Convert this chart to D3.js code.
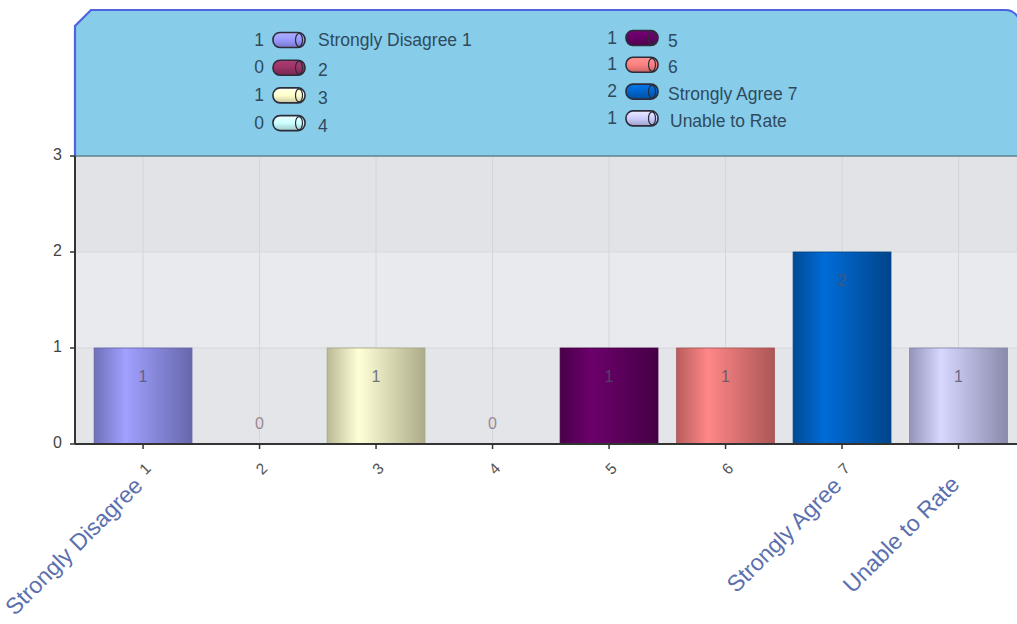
<!DOCTYPE html>
<html>
<head>
<meta charset="utf-8">
<script src="https://cdn.jsdelivr.net/npm/d3@7"></script>
<style>
  html, body { margin: 0; padding: 0; background: #ffffff; }
  svg { display: block; font-family: "Liberation Sans", Arial, sans-serif; }
</style>
</head>
<body>
<svg id="chart" width="1017" height="624"></svg>
<script>
// Response categories, counts and bar colours
const categories = ["Strongly Disagree 1", "2", "3", "4", "5", "6", "Strongly Agree 7", "Unable to Rate"];
const counts = [1, 0, 1, 0, 1, 1, 2, 1];
const barColors = ["#9999ff", "#993366", "#ffffcc", "#ccffff", "#660066", "#ff8080", "#0066cc", "#ccccff"];
const yTicks = [0, 1, 2, 3];

const svg = d3.select("#chart");
const plot = { left: 75, right: 1017, top: 156, bottom: 444 };

const x = d3.scaleBand()
  .domain(d3.range(categories.length))
  .range([84.8, 84.8 + 116.5 * categories.length])
  .paddingInner(0.16)
  .paddingOuter(0.08);
const y = d3.scaleLinear().domain([0, 3]).range([plot.bottom, plot.top]);

const defs = svg.append("defs");
barColors.forEach((c, i) => {
  const base = d3.color(c);
  const g = defs.append("linearGradient").attr("id", "bar" + i)
    .attr("x1", "0%").attr("x2", "100%").attr("y1", "0%").attr("y2", "0%");
  g.append("stop").attr("offset", "0%").attr("stop-color", base.darker(0.9));
  g.append("stop").attr("offset", "32%").attr("stop-color", base.brighter(0.15));
  g.append("stop").attr("offset", "100%").attr("stop-color", base.darker(1.1));
  const s = defs.append("linearGradient").attr("id", "sw" + i)
    .attr("x1", "0%").attr("x2", "0%").attr("y1", "0%").attr("y2", "100%");
  s.append("stop").attr("offset", "0%").attr("stop-color", base.brighter(0.4));
  s.append("stop").attr("offset", "50%").attr("stop-color", base);
  s.append("stop").attr("offset", "100%").attr("stop-color", base.darker(0.7));
});

// Plot background bands
const bandFill = ["#e4e5e8", "#e8eaed", "#e2e3e6"];
svg.append("g").selectAll("rect").data(d3.range(3)).join("rect")
  .attr("x", plot.left).attr("width", plot.right - plot.left)
  .attr("y", d => y(d + 1)).attr("height", d => y(d) - y(d + 1))
  .attr("fill", d => bandFill[d]);

// Grid lines
svg.append("g").selectAll("line").data(yTicks.slice(1, 3)).join("line")
  .attr("x1", plot.left).attr("x2", plot.right)
  .attr("y1", d => y(d)).attr("y2", d => y(d))
  .attr("stroke", "#d6d8db").attr("stroke-width", 1);
svg.append("g").selectAll("line").data(d3.range(categories.length)).join("line")
  .attr("x1", d => x(d) + x.bandwidth() / 2).attr("x2", d => x(d) + x.bandwidth() / 2)
  .attr("y1", plot.top).attr("y2", plot.bottom)
  .attr("stroke", "#d3d5d9").attr("stroke-width", 1);

// Legend panel
function panelPath(closed) {
  const p = d3.path();
  p.moveTo(plot.left, plot.top);
  p.lineTo(plot.left, 26);
  p.lineTo(91, 10);
  p.lineTo(1006, 10);
  p.quadraticCurveTo(1013, 10, 1018, 17);
  if (closed) { p.lineTo(1018, plot.top); p.closePath(); }
  return p.toString();
}
svg.append("path").attr("d", panelPath(true)).attr("fill", "#87cdea");
svg.append("path").attr("d", panelPath(false)).attr("fill", "none")
  .attr("stroke", "#4f62e0").attr("stroke-width", 2.2);
svg.append("line").attr("x1", plot.left).attr("x2", plot.right)
  .attr("y1", plot.top).attr("y2", plot.top)
  .attr("stroke", "#5f7f8f").attr("stroke-width", 1.5);

// Legend entries
const legend = svg.append("g");
categories.forEach((c, i) => {
  const col = i < 4 ? 0 : 1;
  const row = i % 4;
  const gx = col === 0 ? 264 : 617;
  const gy = col === 0 ? 40 + row * 27.7 : 38 + row * 26.8;
  const isWord = /[A-Za-z]/.test(c);
  const item = legend.append("g").attr("transform", `translate(${gx},${gy})`);
  item.append("text").attr("x", 0).attr("y", 1).attr("text-anchor", "end")
    .attr("dominant-baseline", "middle").attr("font-size", 17.5).attr("fill", "#2f4a5c")
    .text(counts[i]);
  item.append("rect").attr("x", 9).attr("y", -7.5).attr("width", 32).attr("height", 15)
    .attr("rx", 7).attr("fill", `url(#sw${i})`)
    .attr("stroke", "#2c2c3a").attr("stroke-width", 1.6);
  item.append("ellipse").attr("cx", 35).attr("cy", 0).attr("rx", 3.5).attr("ry", 6.5)
    .attr("fill", "none").attr("stroke", "#2c2c3a").attr("stroke-width", 1.2);
  const tx = col === 0 ? 54 : (i === 7 ? 53 : 51);
  const ty = isWord ? (col === 1 ? 4 : 1) : 4;
  item.append("text").attr("x", tx).attr("y", ty)
    .attr("dominant-baseline", "middle").attr("font-size", 17.5).attr("fill", "#2f4a5c")
    .text(c);
});

// Bars
svg.append("g").selectAll("rect").data(counts).join("rect")
  .attr("x", (d, i) => x(i)).attr("width", x.bandwidth())
  .attr("y", d => y(d)).attr("height", d => y(0) - y(d))
  .attr("fill", (d, i) => `url(#bar${i})`)
  .attr("stroke", (d, i) => d3.color(barColors[i]).darker(1.2))
  .attr("stroke-width", 0.8);

// Value labels
svg.append("g").selectAll("text").data(counts).join("text")
  .attr("x", (d, i) => x(i) + x.bandwidth() / 2)
  .attr("y", d => d > 0 ? y(d) + 30 : y(0) - 19)
  .attr("text-anchor", "middle").attr("dominant-baseline", "middle")
  .attr("font-size", 16)
  .attr("fill", d => d > 0 ? "#4f5368" : "#9a8894")
  .attr("fill-opacity", d => d > 0 ? 0.8 : 1)
  .text(d => d);

// Y axis
const yAxis = svg.append("g");
yAxis.append("line").attr("x1", plot.left).attr("x2", plot.left)
  .attr("y1", plot.top).attr("y2", plot.bottom).attr("stroke", "#333").attr("stroke-width", 2);
yAxis.selectAll("line.tick").data(yTicks).join("line").attr("class", "tick")
  .attr("x1", plot.left - 5).attr("x2", plot.left).attr("y1", d => y(d)).attr("y2", d => y(d))
  .attr("stroke", "#333").attr("stroke-width", 1.5);
yAxis.selectAll("text").data(yTicks).join("text")
  .attr("x", plot.left - 13).attr("y", d => y(d)).attr("text-anchor", "end")
  .attr("dominant-baseline", "middle").attr("font-size", 16).attr("fill", "#444")
  .text(d => d);

// X axis
const xAxis = svg.append("g");
xAxis.append("line").attr("x1", plot.left).attr("x2", plot.right)
  .attr("y1", plot.bottom).attr("y2", plot.bottom).attr("stroke", "#333").attr("stroke-width", 2);
xAxis.selectAll("line.tick").data(d3.range(categories.length)).join("line").attr("class", "tick")
  .attr("x1", d => x(d) + x.bandwidth() / 2).attr("x2", d => x(d) + x.bandwidth() / 2)
  .attr("y1", plot.bottom).attr("y2", plot.bottom + 5)
  .attr("stroke", "#333").attr("stroke-width", 1.5);

// Rotated category labels: words in blue, trailing scale number in grey
categories.forEach((c, i) => {
  const cx = x(i) + x.bandwidth() / 2;
  const m = c.match(/^(.*?)\s*(\d+)$/);
  const words = m ? m[1] : c;
  const num = m ? m[2] : null;
  const g = xAxis.append("g").attr("transform", `translate(${cx + 3},${plot.bottom + 24}) rotate(-45)`);
  if (num) {
    g.append("text").attr("x", 3).attr("y", 1).attr("text-anchor", "end")
      .attr("dominant-baseline", "middle").attr("font-size", 15.5).attr("fill", "#555")
      .text(num);
  }
  if (words) {
    g.append("text").attr("x", num ? -15 : -13).attr("y", 6).attr("text-anchor", "end")
      .attr("dominant-baseline", "middle").attr("font-size", 23).attr("fill", "#5b6fae")
      .text(words);
  }
});
</script>
</body>
</html>
